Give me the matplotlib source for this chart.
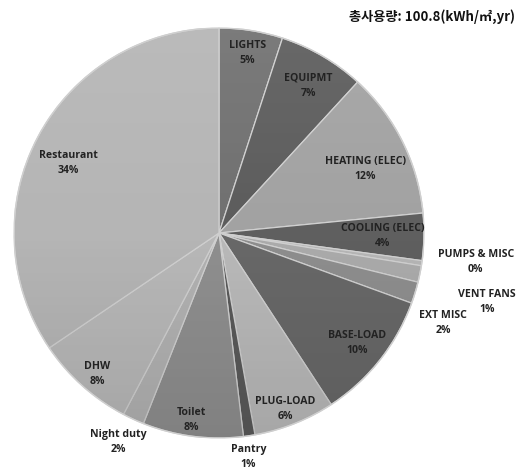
import matplotlib
matplotlib.use("Agg")
import matplotlib.pyplot as plt
from matplotlib.patches import Circle
import numpy as np

# end-use breakdown, share of total consumption (%)
categories = ['LIGHTS', 'EQUIPMT', 'HEATING (ELEC)', 'COOLING (ELEC)', 'PUMPS & MISC',
              'VENT FANS', 'EXT MISC', 'BASE-LOAD', 'PLUG-LOAD', 'Pantry', 'Toilet',
              'Night duty', 'DHW', 'Restaurant']
shares = [5.0, 6.8, 11.6, 3.7, 0.4, 1.3, 1.7, 10.2, 6.4, 0.9, 7.9, 1.7, 7.8, 34.4]
title_text = '총사용량: 100.8(kWh/㎡,yr)'

grays = ['#707070', '#5c5c5c', '#a2a2a2', '#5f5f5f', '#b6b6b6', '#ababab', '#8e8e8e',
         '#686868', '#b9b9b9', '#5a5a5a', '#8f8f8f', '#b2b2b2', '#b8b8b8', '#b5b5b5']
# label placement: distance from centre (pie radii) and angular nudge (deg, clockwise)
label_r = [0.89, 0.84, 0.78, 0.80, 1.26, 1.35, 1.18, 0.86, 0.92, 1.10, 0.92, 1.13, 0.91, 0.81]
label_nudge = [0, 1, 3, 0, -2, 3, 5, 0, 1, 1, 1, 1, -1, -3]

fig = plt.figure(figsize=(5.31, 4.72), dpi=100)
ax = fig.add_axes([14 / 531, 34 / 472, 410 / 531, 410 / 472])

wedges, _ = ax.pie(shares, colors=grays, startangle=90, counterclock=False,
                   wedgeprops=dict(edgecolor='#d0d0d0', linewidth=0.9))
ax.set_xlim(-1, 1)
ax.set_ylim(-1, 1)
ax.set_aspect('equal')
ax.axis('off')

# soft top-to-bottom shading over the whole pie
t = np.linspace(0, 1, 256)
shade = np.zeros((256, 1, 4))
shade[:, 0, :3] = np.where(t < 0.5, 1.0, 0.0)[:, None]
shade[:, 0, 3] = np.where(t < 0.5, (0.5 - t) * 0.16, (t - 0.5) * 0.2)
img = ax.imshow(shade, extent=[-1, 1, -1, 1], origin='upper', aspect='auto',
                interpolation='bilinear', zorder=3)
img.set_clip_path(Circle((0, 0), 1, transform=ax.transData))
ax.add_patch(Circle((0, 0), 1, fill=False, edgecolor='#cfcfcf', linewidth=1.0, zorder=4))

total = sum(shares)
for w, name, val, r, nd in zip(wedges, categories, shares, label_r, label_nudge):
    mid = np.deg2rad((w.theta1 + w.theta2) / 2 - nd)
    ax.text(r * np.cos(mid), r * np.sin(mid), f'{name}\n{val / total * 100:.0f}%',
            ha='center', va='center', fontsize=7.6, fontweight='bold',
            family='Open Sans', color='#222222', linespacing=1.5, clip_on=False, zorder=5)

fig.text(0.97, 0.965, title_text, ha='right', va='center', fontsize=9.5,
         fontweight='bold', style='italic', color='#111111',
         family=['Noto Sans CJK KR', 'DejaVu Sans'])

fig.savefig('out.png', dpi=100)
